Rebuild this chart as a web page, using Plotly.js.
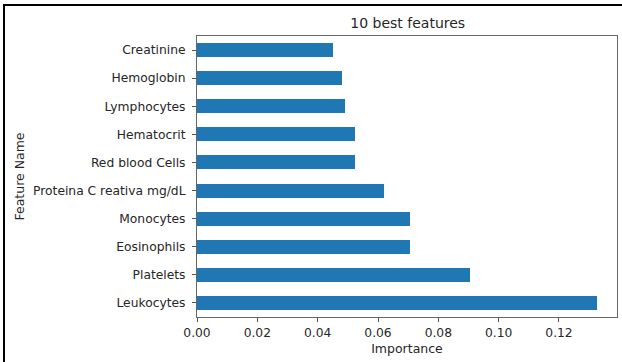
<!DOCTYPE html>
<html>
<head>
<meta charset="utf-8">
<script src="https://cdn.plot.ly/plotly-3.0.1.min.js"></script>
<style>
  html, body { margin: 0; padding: 0; background: #fff; }
  #chart { width: 622px; height: 362px; }
  #frame { position: absolute; left: 3px; top: 4px; width: 700px; height: 400px;
           border-left: 2px solid #000; border-top: 2px solid #000; pointer-events: none; }
</style>
</head>
<body>
<div id="chart"></div>
<div id="frame"></div>
<script>
// Data (bottom to top as drawn)
const features = ["Leukocytes", "Platelets", "Eosinophils", "Monocytes",
  "Proteina C reativa mg/dL", "Red blood Cells", "Hematocrit", "Lymphocytes",
  "Hemoglobin", "Creatinine"];
const importance = [0.1326, 0.0906, 0.0706, 0.0706, 0.0621, 0.0523, 0.0523, 0.0490, 0.0481, 0.0452];
const xTicks = [0, 0.02, 0.04, 0.06, 0.08, 0.10, 0.12];

const maxVal = Math.max(...importance);
const font = "DejaVu Sans, sans-serif";

Plotly.newPlot("chart", [{
  type: "bar",
  orientation: "h",
  y: features,
  x: importance,
  width: 0.5,
  marker: { color: "#1f77b4", line: { width: 0 } },
  hoverinfo: "x+y"
}], {
  width: 622, height: 362,
  margin: { l: 197, r: 5, t: 36, b: 45 },
  paper_bgcolor: "#fff", plot_bgcolor: "#fff",
  showlegend: false,
  bargap: 0,
  font: { family: font, size: 12.3, color: "#262626" },
  title: { text: "10 best features", font: { family: font, size: 14, color: "#262626" },
           x: 0.6555, xanchor: "center", y: 0.935, yanchor: "middle" },
  xaxis: {
    range: [0, maxVal * 1.05],
    tickvals: xTicks,
    tickformat: ".2f",
    ticks: "outside", ticklen: 4, tickcolor: "#555", tickwidth: 1,
    showgrid: false, zeroline: false,
    showline: true, mirror: true, linecolor: "#666", linewidth: 1,
    tickfont: { family: font, size: 12.3, color: "#262626" },
    title: { text: "Importance", standoff: 5, font: { family: font, size: 12.5, color: "#262626" } }
  },
  yaxis: {
    type: "category",
    categoryorder: "array",
    categoryarray: features,
    range: [-0.5, 9.5],
    ticks: "outside", ticklen: 4, tickcolor: "#555", tickwidth: 1,
    ticklabelstandoff: 4,
    showgrid: false, zeroline: false,
    showline: true, mirror: true, linecolor: "#666", linewidth: 1,
    tickfont: { family: font, size: 12.3, color: "#262626" },
    title: { text: "Feature Name", standoff: 5, font: { family: font, size: 12.5, color: "#262626" } }
  }
}, { displayModeBar: false, staticPlot: true });
</script>
</body>
</html>
